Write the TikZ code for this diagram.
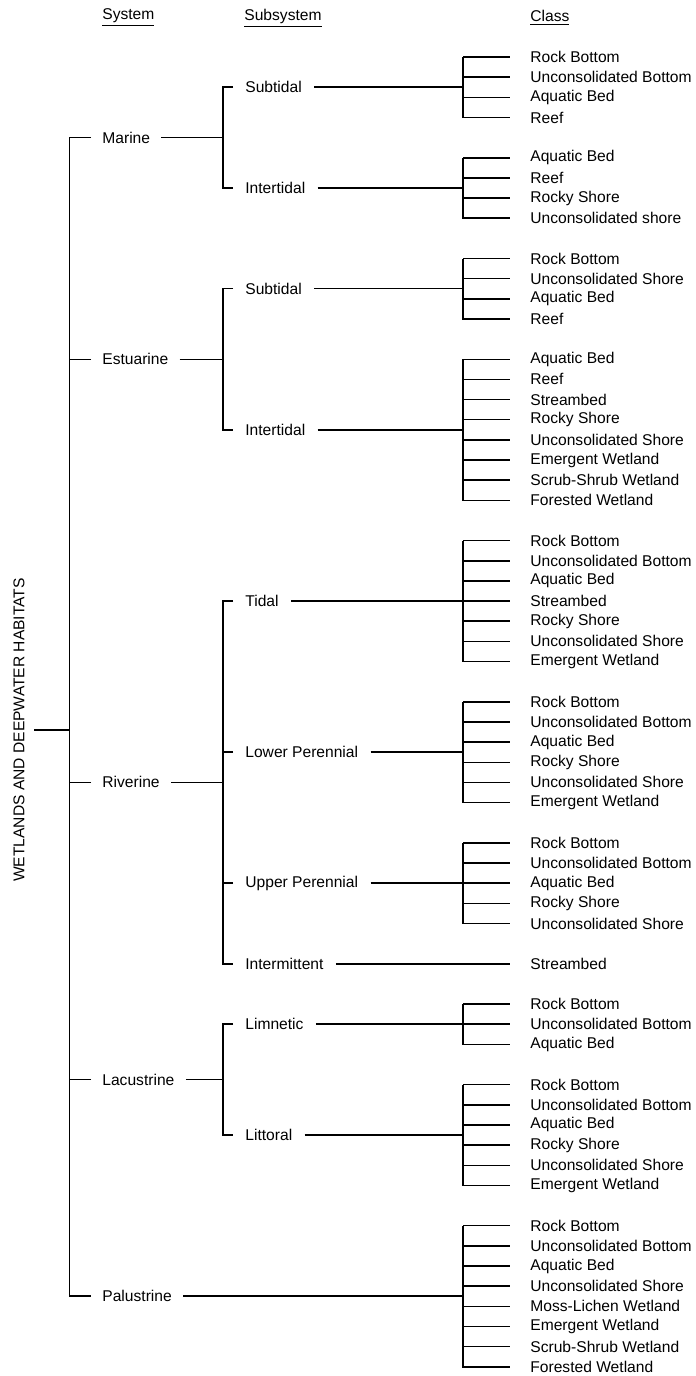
\documentclass[tikz,border=0pt]{standalone}
\usepackage{fontspec}
\setmainfont{Liberation Sans}
\begin{document}
\begin{tikzpicture}[x=0.5pt, y=-0.5pt, font=\fontsize{7.8}{9}\selectfont]

    % --- STYLES ---
    \tikzstyle{tree} = [draw=black, line width=0.75pt]
    \tikzstyle{head} = [anchor=west, inner xsep=0pt, inner ysep=1pt]
    \tikzstyle{sys} = [anchor=west, inner xsep=5.5pt, inner ysep=1pt]
    \tikzstyle{sub} = [anchor=west, inner xsep=6pt, inner ysep=1pt]
    \tikzstyle{cls} = [anchor=west, inner xsep=10pt, inner ysep=1pt]

    % --- DEFINITIONS ---
    \def\topY{57}     % first class row
    \def\rowH{20.15}  % class row pitch
    \def\sysX{91}     % system labels
    \def\subX{233}    % subsystem labels
    \def\clsX{510}    % class labels

    \useasboundingbox (0,0) rectangle (696,1376);
    \coordinate (sbr) at (223,0); % subsystem bracket line
    \coordinate (cbr) at (463,0); % class bracket line

    % --- HEADINGS ---
    \node[head] (hsys) at (102,18) {\underline{System}};
    \node[head] (hsub) at (244,18) {\underline{Subsystem}};
    \node[head] (hcls) at (530,18) {\underline{Class}};

    % --- CLASSES ---
    \foreach \grp/\first/\items in {
        ms/0/{Rock Bottom, Unconsolidated Bottom, Aquatic Bed, Reef},
        mi/5/{Aquatic Bed, Reef, Rocky Shore, Unconsolidated shore},
        es/10/{Rock Bottom, Unconsolidated Shore, Aquatic Bed, Reef},
        ei/15/{Aquatic Bed, Reef, Streambed, Rocky Shore, Unconsolidated Shore, Emergent Wetland, Scrub-Shrub Wetland, Forested Wetland},
        rt/24/{Rock Bottom, Unconsolidated Bottom, Aquatic Bed, Streambed, Rocky Shore, Unconsolidated Shore, Emergent Wetland},
        rl/32/{Rock Bottom, Unconsolidated Bottom, Aquatic Bed, Rocky Shore, Unconsolidated Shore, Emergent Wetland},
        ru/39/{Rock Bottom, Unconsolidated Bottom, Aquatic Bed, Rocky Shore, Unconsolidated Shore},
        ri/45/{Streambed},
        ll/47/{Rock Bottom, Unconsolidated Bottom, Aquatic Bed},
        lt/51/{Rock Bottom, Unconsolidated Bottom, Aquatic Bed, Rocky Shore, Unconsolidated Shore, Emergent Wetland},
        pa/58/{Rock Bottom, Unconsolidated Bottom, Aquatic Bed, Unconsolidated Shore, Moss-Lichen Wetland, Emergent Wetland, Scrub-Shrub Wetland, Forested Wetland}}{
        \foreach \c [count=\k from 0] in \items {
            \node[cls] (\grp-\k) at (\clsX, {\topY+(\first+\k)*\rowH}) {\c};
            \draw[tree] (\grp-0.west -| cbr) |- (\grp-\k.west);
        }
    }

    % --- SUBSYSTEMS ---
    \node[sub] (msub) at (\subX, {\topY+1.5*\rowH}) {Subtidal};
    \node[sub] (mint) at (\subX, {\topY+6.5*\rowH}) {Intertidal};
    \node[sub] (esub) at (\subX, {\topY+11.5*\rowH}) {Subtidal};
    \node[sub] (eint) at (\subX, {\topY+18.5*\rowH}) {Intertidal};
    \node[sub] (rtid) at (\subX, {\topY+27*\rowH}) {Tidal};
    \node[sub] (rlow) at (\subX, {\topY+34.5*\rowH}) {Lower Perennial};
    \node[sub] (rupp) at (\subX, {\topY+41*\rowH}) {Upper Perennial};
    \node[sub] (rint) at (\subX, {\topY+45*\rowH}) {Intermittent};
    \node[sub] (llim) at (\subX, {\topY+48*\rowH}) {Limnetic};
    \node[sub] (llit) at (\subX, {\topY+53.5*\rowH}) {Littoral};

    % subsystem -> class bracket
    \draw[tree] (msub.east) -- (msub.east -| cbr);
    \draw[tree] (mint.east) -- (mint.east -| cbr);
    \draw[tree] (esub.east) -- (esub.east -| cbr);
    \draw[tree] (eint.east) -- (eint.east -| cbr);
    \draw[tree] (rtid.east) -- (rtid.east -| cbr);
    \draw[tree] (rlow.east) -- (rlow.east -| cbr);
    \draw[tree] (rupp.east) -- (rupp.east -| cbr);
    \draw[tree] (rint.east) -- (ri-0.west);
    \draw[tree] (llim.east) -- (llim.east -| cbr);
    \draw[tree] (llit.east) -- (llit.east -| cbr);

    % --- SYSTEMS ---
    \node[sys] (mar) at (\sysX, {\topY+4*\rowH}) {Marine};
    \node[sys] (est) at (\sysX, {\topY+15*\rowH}) {Estuarine};
    \node[sys] (riv) at (\sysX, {\topY+36*\rowH}) {Riverine};
    \node[sys] (lac) at (\sysX, {\topY+50.75*\rowH}) {Lacustrine};
    \node[sys] (pal) at (\sysX, {\topY+61.5*\rowH}) {Palustrine};

    % system -> subsystem bracket
    \draw[tree] (mar.east) -- (mar.east -| sbr);
    \draw[tree] (msub.west) -- (msub.west -| sbr) |- (mint.west);
    \draw[tree] (est.east) -- (est.east -| sbr);
    \draw[tree] (esub.west) -- (esub.west -| sbr) |- (eint.west);
    \draw[tree] (riv.east) -- (riv.east -| sbr);
    \draw[tree] (rtid.west) -- (rtid.west -| sbr) |- (rint.west);
    \draw[tree] (rlow.west) -- (rlow.west -| sbr);
    \draw[tree] (rupp.west) -- (rupp.west -| sbr);
    \draw[tree] (lac.east) -- (lac.east -| sbr);
    \draw[tree] (llim.west) -- (llim.west -| sbr) |- (llit.west);
    \draw[tree] (pal.east) -- (pal.east -| cbr);

    % --- ROOT ---
    \node[rotate=90, anchor=south, inner xsep=0pt, inner ysep=4.5pt] (root) at (34,730) {WETLANDS AND DEEPWATER HABITATS};
    \draw[tree] (mar.west) -- ++(-10.75pt,0) |- (pal.west);
    \draw[tree] (est.west) -- ++(-10.75pt,0);
    \draw[tree] (riv.west) -- ++(-10.75pt,0);
    \draw[tree] (lac.west) -- ++(-10.75pt,0);
    \draw[tree] (root.south) -- ++(17.75pt,0);

\end{tikzpicture}
\end{document}
